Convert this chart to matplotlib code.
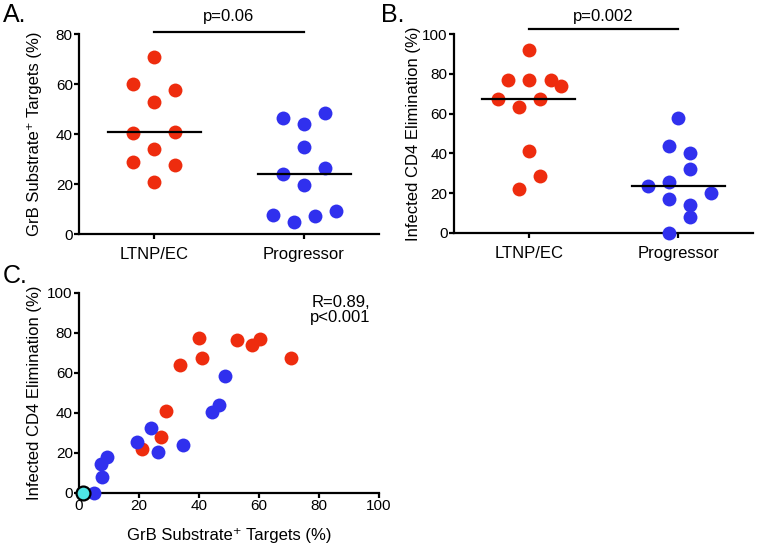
import numpy as np
import matplotlib
matplotlib.use('Agg')
import matplotlib.pyplot as plt

plt.rcParams['font.family'] = ['Liberation Sans', 'DejaVu Sans']

# Panel A: GrB substrate+ targets (%)
groups = ['LTNP/EC', 'Progressor']
grb_ltnp = [70.7, 60.0, 57.6, 52.9, 40.3, 40.9, 33.9, 28.7, 27.6, 20.7]
grb_prog = [46.3, 44.0, 48.3, 34.7, 24.0, 26.3, 19.5, 7.6, 4.7, 7.2, 9.3]
grb_median = [40.7, 24.0]

# Panel B: infected CD4 elimination (%)
elim_ltnp = [92.0, 76.9, 76.9, 76.9, 73.9, 67.2, 67.2, 63.5, 41.3, 28.4, 22.0]
elim_prog = [58.0, 43.5, 40.1, 32.1, 23.4, 25.4, 17.1, 20.1, 14.2, 7.9, 0.0]
elim_median = [67.4, 23.7]

# swarm slots (in marker-widths) as laid out in the original
slot_a_ltnp = [0, -2, 2, 0, -2, 2, 0, -2, 2, 0]
slot_a_prog = [-2, 0, 2, 0, -2, 2, 0, -3, -1, 1, 3]
slot_b_ltnp = [0, -2, 0, 2.1, 3.1, -2.9, 1.1, -0.9, 0, 1.1, -0.9]
slot_b_prog = [0, -0.9, 1.1, 1.1, -2.9, -0.9, -0.9, 3.1, 1.1, 1.1, -0.9]

# Panel C: correlation
c_ltnp_x = [40.1, 52.8, 57.7, 60.3, 70.6, 40.9, 33.7, 28.9, 27.3, 20.9]
c_ltnp_y = [77.2, 76.3, 73.8, 76.8, 67.5, 67.2, 63.8, 41.0, 28.0, 21.8]
c_prog_x = [48.7, 46.6, 44.2, 23.9, 19.2, 26.4, 34.6, 9.4, 7.2, 7.8, 5.0]
c_prog_y = [58.3, 43.8, 40.5, 32.2, 25.2, 20.5, 23.8, 17.7, 14.3, 7.7, 0.0]
c_ctrl_x = [1.4]
c_ctrl_y = [0.0]

RED = '#ee2c0e'
BLUE = '#3030ee'
CYAN = '#4ee6e6'
slot_w = 0.07
ms = 100

fig = plt.figure(figsize=(7.57, 5.45), dpi=100)
axA = fig.add_axes([0.1044, 0.5706, 0.3963, 0.367])
axB = fig.add_axes([0.5997, 0.5725, 0.395, 0.3651])
axC = fig.add_axes([0.1044, 0.096, 0.3963, 0.367])


def style(ax):
    for s in ['top', 'right']:
        ax.spines[s].set_visible(False)
    for s in ['left', 'bottom']:
        ax.spines[s].set_linewidth(1.6)
    ax.tick_params(width=1.6, length=3.5, labelsize=11, pad=1)


def dot_panel(ax, ltnp, prog, sl, sp, med, top, step):
    style(ax)
    ax.scatter(0 + np.array(sl) * slot_w, ltnp, s=ms, c=RED, lw=0,
               zorder=3, clip_on=False)
    ax.scatter(1 + np.array(sp) * slot_w, prog, s=ms, c=BLUE, lw=0,
               zorder=3, clip_on=False)
    for i, m in enumerate(med):
        ax.plot([i - 0.31, i + 0.31], [m, m], c='black', lw=1.6, zorder=4)
    ax.set_xlim(-0.5, 1.5)
    ax.set_ylim(0, top)
    ax.set_yticks(np.arange(0, top + 1, step))
    ax.set_xticks([0, 1])
    ax.set_xticklabels(groups, fontsize=12)
    ax.tick_params(axis='x', pad=6)


dot_panel(axA, grb_ltnp, grb_prog, slot_a_ltnp, slot_a_prog, grb_median, 80, 20)
axA.set_ylabel('GrB Substrate\u207a Targets (%)', fontsize=12, va='center')
axA.yaxis.set_label_coords(-0.147, 0.5)
axA.plot([0, 1], [80.7, 80.7], c='black', lw=1.6, clip_on=False)
axA.text(0.5, 87.2, 'p=0.06', ha='center', va='center', fontsize=12)

dot_panel(axB, elim_ltnp, elim_prog, slot_b_ltnp, slot_b_prog, elim_median, 100, 20)
axB.set_ylabel('Infected CD4 Elimination (%)', fontsize=12, va='center')
axB.yaxis.set_label_coords(-0.137, 0.5)
axB.plot([0, 1], [102.4, 102.4], c='black', lw=1.6, clip_on=False)
axB.text(0.5, 109, 'p=0.002', ha='center', va='center', fontsize=12)

style(axC)
axC.scatter(c_ltnp_x, c_ltnp_y, s=ms, c=RED, lw=0, zorder=3, clip_on=False)
axC.scatter(c_prog_x, c_prog_y, s=ms, c=BLUE, lw=0, zorder=3, clip_on=False)
axC.scatter(c_ctrl_x, c_ctrl_y, s=ms, c=CYAN, edgecolors='black', lw=1.6,
            zorder=5, clip_on=False)
axC.set_xlim(0, 100)
axC.set_ylim(0, 100)
axC.set_xticks(np.arange(0, 101, 20))
axC.set_yticks(np.arange(0, 101, 20))
axC.set_xlabel('GrB Substrate\u207a Targets (%)', fontsize=12, labelpad=11)
axC.set_ylabel('Infected CD4 Elimination (%)', fontsize=12, va='center')
axC.yaxis.set_label_coords(-0.147, 0.5)
axC.text(97, 99, 'R=0.89,\np<0.001', ha='right', va='top', fontsize=12,
         linespacing=1.0)

fig.text(0.004, 0.96, 'A.', fontsize=18)
fig.text(0.503, 0.96, 'B.', fontsize=18)
fig.text(0.004, 0.4807, 'C.', fontsize=18)

fig.savefig('out.png', dpi=100)
